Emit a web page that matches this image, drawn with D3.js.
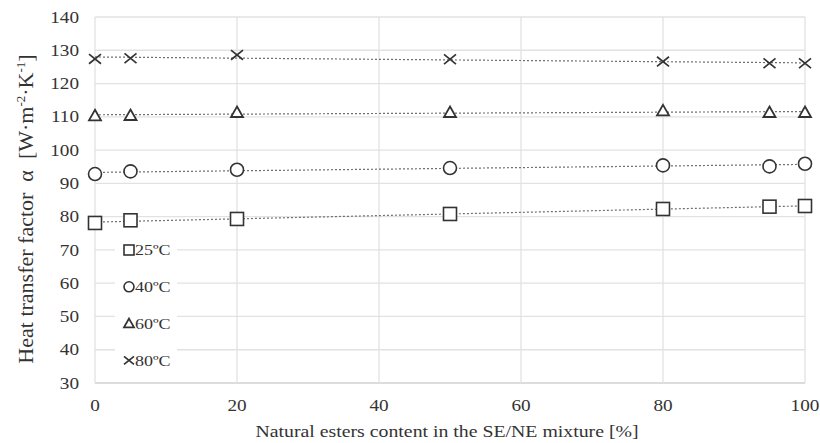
<!DOCTYPE html>
<html>
<head>
<meta charset="utf-8">
<script src="https://cdn.jsdelivr.net/npm/d3@7"></script>
<style>
  body { margin: 0; background: #fff; }
  text { font-family: "Liberation Serif", "DejaVu Serif", serif; fill: #333; }
</style>
</head>
<body>
<script>
var xValues = [0, 5, 20, 50, 80, 95, 100];
var series25 = [78.1, 78.9, 79.3, 80.8, 82.3, 83.0, 83.2];
var series40 = [92.8, 93.6, 94.1, 94.6, 95.4, 95.1, 95.9];
var series60 = [110.3, 110.4, 111.3, 111.3, 111.8, 111.3, 111.3];
var series80 = [127.4, 127.6, 128.6, 127.3, 126.6, 126.1, 126.1];
var seriesNames = ["25ºC", "40ºC", "60ºC", "80ºC"];
var seriesSymbols = ["square", "circle", "triangle", "cross"];
var xTicks = [0, 20, 40, 60, 80, 100];
var yTicks = [30, 40, 50, 60, 70, 80, 90, 100, 110, 120, 130, 140];

var width = 820,
    height = 443,
    margin = { top: 17, right: 15, bottom: 60, left: 95 };

// the picture is a bit wider than tall, so glyphs get stretched sideways
var stretch = 1.2;

var allSeries = [series25, series40, series60, series80].map(function (vals, i) {
    return {
        name: seriesNames[i],
        symbol: seriesSymbols[i],
        points: vals.map(function (v, j) { return { x: xValues[j], y: v }; })
    };
});

var svg = d3.select("body").append("svg")
    .attr("width", width)
    .attr("height", height);

var x = d3.scaleLinear().domain([0, 100]).range([margin.left, width - margin.right]);
var y = d3.scaleLinear().domain([30, 140]).range([height - margin.bottom, margin.top]);

function stretchedText(parent, px, py, anchor, size, str) {
    return parent.append("text")
        .attr("transform", "translate(" + px + "," + py + ") scale(" + stretch + ",1)")
        .attr("text-anchor", anchor)
        .attr("dy", "0.35em")
        .style("font-size", size + "px")
        .text(str);
}

// grid
svg.append("g").selectAll("line")
    .data(yTicks)
    .enter().append("line")
    .attr("x1", x(0)).attr("x2", x(100))
    .attr("y1", function (d) { return y(d); })
    .attr("y2", function (d) { return y(d); })
    .attr("stroke", function (d) { return d === 30 ? "#d0d0d0" : "#e2e2e2"; })
    .attr("stroke-width", 1.3);

svg.append("g").selectAll("line")
    .data(xTicks)
    .enter().append("line")
    .attr("x1", function (d) { return x(d); })
    .attr("x2", function (d) { return x(d); })
    .attr("y1", y(30)).attr("y2", y(140))
    .attr("stroke", "#e2e2e2")
    .attr("stroke-width", 1.3);

// tick labels
var yLab = svg.append("g");
yTicks.forEach(function (d) { stretchedText(yLab, 79, y(d), "end", 16, d); });
var xLab = svg.append("g");
xTicks.forEach(function (d) { stretchedText(xLab, x(d), 405, "middle", 16, d); });

// axis titles
stretchedText(svg, 447, 431, "middle", 16.5, "Natural esters content in the SE/NE mixture [%]");

var yTitle = svg.append("text")
    .attr("transform", "translate(25,209) rotate(-90)")
    .attr("text-anchor", "middle")
    .attr("dy", "0.35em")
    .style("font-size", "22px");
yTitle.append("tspan").text("Heat transfer factor \u00a0α \u00a0[W·m");
yTitle.append("tspan").attr("dy", -8).style("font-size", "13px").text("-2");
yTitle.append("tspan").attr("dy", 8).text("·K");
yTitle.append("tspan").attr("dy", -8).style("font-size", "13px").text("-1");
yTitle.append("tspan").attr("dy", 8).text("]");

// linear trendlines
function fit(points) {
    var mx = d3.mean(points, function (p) { return p.x; });
    var my = d3.mean(points, function (p) { return p.y; });
    var sxy = d3.sum(points, function (p) { return (p.x - mx) * (p.y - my); });
    var sxx = d3.sum(points, function (p) { return (p.x - mx) * (p.x - mx); });
    var b = sxy / sxx;
    return function (v) { return my + b * (v - mx); };
}

allSeries.forEach(function (s) {
    var f = fit(s.points);
    svg.append("line")
        .attr("x1", x(0)).attr("x2", x(100))
        .attr("y1", y(f(0))).attr("y2", y(f(100)))
        .attr("stroke", "#6f6f6f")
        .attr("stroke-width", 1.2)
        .attr("stroke-dasharray", "2,2");
});

// markers
function drawSymbol(g, type, cx, cy, size) {
    var h = size / 2;
    if (type === "square") {
        g.append("rect").attr("x", cx - h).attr("y", cy - h)
            .attr("width", size).attr("height", size)
            .attr("fill", "#fff").attr("stroke", "#333").attr("stroke-width", 1.6);
    } else if (type === "circle") {
        g.append("circle").attr("cx", cx).attr("cy", cy).attr("r", h)
            .attr("fill", "#fff").attr("stroke", "#333").attr("stroke-width", 1.6);
    } else if (type === "triangle") {
        g.append("path")
            .attr("d", "M" + cx + "," + (cy - h) + "L" + (cx + h) + "," + (cy + h * 0.75) + "L" + (cx - h) + "," + (cy + h * 0.75) + "Z")
            .attr("fill", "#fff").attr("stroke", "#333").attr("stroke-width", 1.8);
    } else {
        g.append("path")
            .attr("d", "M" + (cx - h) + "," + (cy - h * 0.8) + "L" + (cx + h) + "," + (cy + h * 0.8) +
                "M" + (cx - h) + "," + (cy + h * 0.8) + "L" + (cx + h) + "," + (cy - h * 0.8))
            .attr("fill", "none").attr("stroke", "#333").attr("stroke-width", 1.7);
    }
}

var markers = svg.append("g");
allSeries.forEach(function (s) {
    var size = { square: 13, circle: 13, triangle: 12, cross: 12 }[s.symbol];
    s.points.forEach(function (p) {
        drawSymbol(markers, s.symbol, x(p.x), y(p.y), size);
    });
});

// legend
var legend = svg.append("g");
legend.append("rect")
    .attr("x", 115).attr("y", 232)
    .attr("width", 62).attr("height", 146)
    .attr("fill", "#fff");

allSeries.forEach(function (s, i) {
    var ly = 250 + i * 36.8;
    drawSymbol(legend, s.symbol, 129, ly, 10);
    stretchedText(legend, 135, ly, "start", 15, s.name);
});
</script>
</body>
</html>
